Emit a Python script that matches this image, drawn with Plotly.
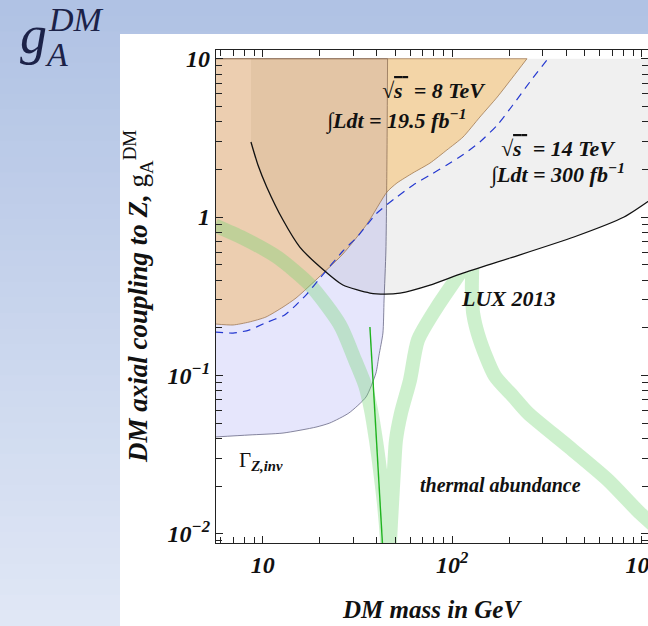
import numpy as np
import plotly.graph_objects as go

# ---------------- data ----------------
# LUX 2013 direct-detection bound (GeV, coupling)
LUX_MASS = [8.67, 9.44, 10.5, 12.8, 15.7, 20.1, 26.5, 36.8, 44.2, 53.0, 76.4, 114, 202, 439, 807, 1107]
LUX_COUP = [2.98, 2.13, 1.55, 0.957, 0.646, 0.483, 0.372, 0.331, 0.326, 0.331, 0.372, 0.443, 0.551, 0.748, 1.0, 1.28]

# 8 TeV LHC exclusion (lower boundary of the orange region)
LHC8_MASS = [5.6, 6.97, 8.47, 10.4, 12.8, 15.0, 20.1, 26.5, 35.5, 45.3, 51.1, 62.1, 76.3, 93.7, 114, 140, 173, 209, 248]
LHC8_COUP = [0.211, 0.208, 0.217, 0.2335, 0.270, 0.308, 0.424, 0.584, 0.903, 1.44, 1.64, 1.90, 2.19, 2.65, 3.20, 4.28, 5.73, 7.66, 10]

# 14 TeV projection (dashed)
LHC14_MASS = [5.6, 6.97, 8.47, 10.3, 13.0, 15.0, 17.1, 20.1, 26.5, 31.5, 40.1, 51.1, 62.1, 76.3, 93.7, 114, 140, 173, 209, 257, 320]
LHC14_COUP = [0.188, 0.185, 0.193, 0.214, 0.240, 0.278, 0.326, 0.412, 0.610, 0.748, 1.06, 1.34, 1.59, 1.84, 2.13, 2.47, 2.98, 3.81, 5.10, 7.13, 10]

# invisible Z width region: right / lower boundary
ZINV_MASS = [45.6, 45.3, 44.7, 43.7, 43.1, 41.1, 39.6, 35.1, 28.5, 22.6, 19.1, 12.8, 8.47, 5.6]
ZINV_COUP = [10, 2.65, 0.619, 0.299, 0.185, 0.134, 0.1034, 0.0730, 0.0578, 0.050, 0.0471, 0.0432, 0.0420, 0.0408]

# thermal abundance band (centre line)
THERM_MASS = [5.6, 7.87, 11.9, 17.8, 25.6, 30.7, 34.7, 37.3, 39.6, 41.6, 43.7, 45.3, 46.1, 47.0, 48.1, 49.3, 50.5,
              53.7, 59.9, 66.0, 83.2, 110, 126, 127, 129, 140, 168, 209, 251, 408, 664, 979, 1300]
THERM_COUP = [0.885, 0.737, 0.559, 0.372, 0.208, 0.125, 0.0868, 0.0604, 0.039, 0.0252, 0.0152, 0.0091, 0.0059, 0.0091,
              0.0152, 0.0252, 0.039, 0.0578, 0.0934, 0.167, 0.270, 0.443, 0.575, 0.346, 0.247, 0.167, 0.099, 0.074,
              0.0578, 0.0357, 0.0218, 0.0135, 0.0100]

# thin green line
GREEN_MASS = [36.8, 43.2]
GREEN_COUP = [0.202, 0.0073]

COUP_TOP = 10
X_TICKS = [10, 100, 1000]
X_TICKTEXT = ["10", "10<sup>2</sup>", "10<sup>3</sup>"]
Y_TICKS = [0.01, 0.1, 1, 10]
Y_TICKTEXT = ["10<sup>\u22122</sup>", "10<sup>\u22121</sup>", "1", "10"]
X_MINOR = [m * 10 ** e for e in range(0, 4) for m in range(2, 10)]
Y_MINOR = [m * 10 ** e for e in range(-3, 2) for m in range(2, 10)]

# ---------------- layout geometry ----------------
W, H = 648, 626
L_PX, R_PX, T_PX, B_PX = 216, 648, 50, 543
X_RANGE = [0.7536, 3.0333]
Y_RANGE = [-2.059, 1.055]
SERIF = "Liberation Serif"


def pxx(p):
    return (p - L_PX) / (R_PX - L_PX)


def pxy(p):
    return (B_PX - p) / (B_PX - T_PX)


def lux_at(m):
    return 10 ** np.interp(np.log10(m), np.log10(LUX_MASS), np.log10(LUX_COUP))


SPL = dict(shape="spline", smoothing=0.6)
fig = go.Figure()

# Z invisible width region (top edge, then boundary filled to it)
fig.add_trace(go.Scatter(x=[ZINV_MASS[0], ZINV_MASS[-1]], y=[COUP_TOP, COUP_TOP], mode="lines",
                         line=dict(color="rgba(105,105,135,0.9)", width=0.9), hoverinfo="skip"))
fig.add_trace(go.Scatter(x=ZINV_MASS, y=ZINV_COUP, mode="lines", fill="tonexty",
                         fillcolor="rgba(155,155,243,0.25)",
                         line=dict(color="rgba(105,105,135,0.9)", width=0.9, **SPL), hoverinfo="skip"))
# LUX excluded region
fig.add_trace(go.Scatter(x=[LUX_MASS[0], LUX_MASS[-1]], y=[COUP_TOP, COUP_TOP], mode="lines",
                         line=dict(width=0), hoverinfo="skip"))
fig.add_trace(go.Scatter(x=LUX_MASS, y=LUX_COUP, mode="lines", fill="tonexty", fillcolor="rgba(0,0,0,0.06)",
                         line=dict(width=0, **SPL), hoverinfo="skip"))
# 8 TeV exclusion region
fig.add_trace(go.Scatter(x=[LHC8_MASS[0], LHC8_MASS[-1]], y=[COUP_TOP, COUP_TOP], mode="lines",
                         line=dict(color="rgba(150,110,70,0.8)", width=0.9), hoverinfo="skip"))
fig.add_trace(go.Scatter(x=LHC8_MASS, y=LHC8_COUP, mode="lines", fill="tonexty",
                         fillcolor="rgba(253,153,0,0.30)",
                         line=dict(color="rgba(150,110,70,0.8)", width=0.9, **SPL), hoverinfo="skip"))
# thermal band
fig.add_trace(go.Scatter(x=THERM_MASS, y=THERM_COUP, mode="lines",
                         line=dict(color="rgba(112,212,112,0.35)", width=14, shape="spline", smoothing=0.7),
                         hoverinfo="skip"))
# hide band inside LUX region (opaque patch of the LUX shade)
pm = [90] + [m for m in LUX_MASS if 90 < m < 170] + [170]
pc = [float(lux_at(m)) for m in pm]
fig.add_trace(go.Scatter(x=pm + [170, 90], y=pc + [1.0, 1.0], mode="lines", fill="toself",
                         fillcolor="rgb(240,240,240)", line=dict(width=0), hoverinfo="skip"))
# 14 TeV dashed
fig.add_trace(go.Scatter(x=LHC14_MASS, y=LHC14_COUP, mode="lines",
                         line=dict(color="#2438d0", width=1.2, dash="8px,6px", **SPL), hoverinfo="skip"))
# LUX line
fig.add_trace(go.Scatter(x=LUX_MASS, y=LUX_COUP, mode="lines",
                         line=dict(color="#111111", width=1.3, **SPL), hoverinfo="skip"))
# thin green line
fig.add_trace(go.Scatter(x=GREEN_MASS, y=GREEN_COUP, mode="lines",
                         line=dict(color="#1fb31f", width=1.4), hoverinfo="skip"))

# ---------------- background shapes ----------------
shapes = []
N = 40
c0, c1 = np.array([176, 194, 228]), np.array([225, 232, 246])
for i in range(N):
    ya, yb = i * H / N, (i + 1) * H / N + 1
    c = c0 + (c1 - c0) * (i + 0.5) / N
    shapes.append(dict(type="rect", xref="paper", yref="paper", x0=pxx(0), x1=pxx(W + 2),
                       y0=pxy(yb), y1=pxy(ya), fillcolor="rgb(%d,%d,%d)" % tuple(c),
                       line=dict(width=0), layer="below"))
shapes.append(dict(type="rect", xref="paper", yref="paper", x0=pxx(120), x1=pxx(W + 2),
                   y0=pxy(H + 2), y1=pxy(34), fillcolor="white", line=dict(width=0), layer="below"))

tick_font = dict(family=SERIF, size=24, color="#111", weight="bold", style="italic")
txt_font = dict(family=SERIF, size=22, color="#111", weight="bold", style="italic")


def ann(text, xp, yp, font, xanchor="center", yanchor="middle", angle=0):
    return dict(text=text, x=pxx(xp), y=pxy(yp), xref="paper", yref="paper", showarrow=False,
                xanchor=xanchor, yanchor=yanchor, font=font, textangle=angle)


annotations = [
    ann("\u221a<span style='text-decoration:overline'><i>s</i> </span> = 8 TeV", 434, 90, txt_font),
    ann("\u222bLdt = 19.5 fb<sup>\u22121</sup>", 396, 119, txt_font),
    ann("\u221a<span style='text-decoration:overline'><i>s</i> </span> = 14 TeV", 558, 148, txt_font),
    ann("\u222bLdt = 300 fb<sup>\u22121</sup>", 557, 173, txt_font),
    ann("LUX 2013", 508, 298, txt_font),
    ann("thermal abundance", 500, 485, dict(family=SERIF, size=20, color="#111", weight="bold", style="italic")),
    ann("\u0393<sub><b><i>Z,inv</i></b></sub>", 261, 461, dict(family=SERIF, size=21, color="#111")),
    ann("DM mass in GeV", 432, 609, dict(family=SERIF, size=25, color="#111", weight="bold", style="italic")),
    ann("DM axial coupling to Z, <span style='font-style:normal;font-weight:normal'>g<sub>A</sub><sup>DM</sup></span>",
        138, 297, dict(family=SERIF, size=27, color="#111", weight="bold", style="italic"), angle=-90),
    # slide label g_A^DM
    ann("g", 18, 35, dict(family=SERIF, size=54, color="#1c2248", style="italic"), xanchor="left"),
    ann("DM", 46, 20, dict(family=SERIF, size=34, color="#1c2248", style="italic"), xanchor="left"),
    ann("A", 43, 54, dict(family=SERIF, size=34, color="#1c2248", style="italic"), xanchor="left"),
]

axis_common = dict(type="log", ticks="inside", ticklen=7, tickwidth=1, tickcolor="#222",
                   showline=True, linecolor="#222", linewidth=1.2, mirror="ticks",
                   showgrid=False, zeroline=False, tickfont=tick_font, ticklabeloverflow="allow")

fig.update_layout(
    width=W, height=H,
    margin=dict(l=L_PX, r=W - R_PX, t=T_PX, b=H - B_PX, autoexpand=False),
    paper_bgcolor="white", plot_bgcolor="white",
    showlegend=False, hovermode=False,
    xaxis=dict(range=X_RANGE, tickvals=X_TICKS, ticktext=X_TICKTEXT,
               minor=dict(tickvals=X_MINOR, ticks="inside", ticklen=6, tickcolor="#222", showgrid=False),
               **axis_common),
    yaxis=dict(range=Y_RANGE, tickvals=Y_TICKS, ticktext=Y_TICKTEXT,
               minor=dict(tickvals=Y_MINOR, ticks="inside", ticklen=6, tickcolor="#222", showgrid=False),
               **axis_common),
    shapes=shapes, annotations=annotations,
)

fig.write_html("out.html")
